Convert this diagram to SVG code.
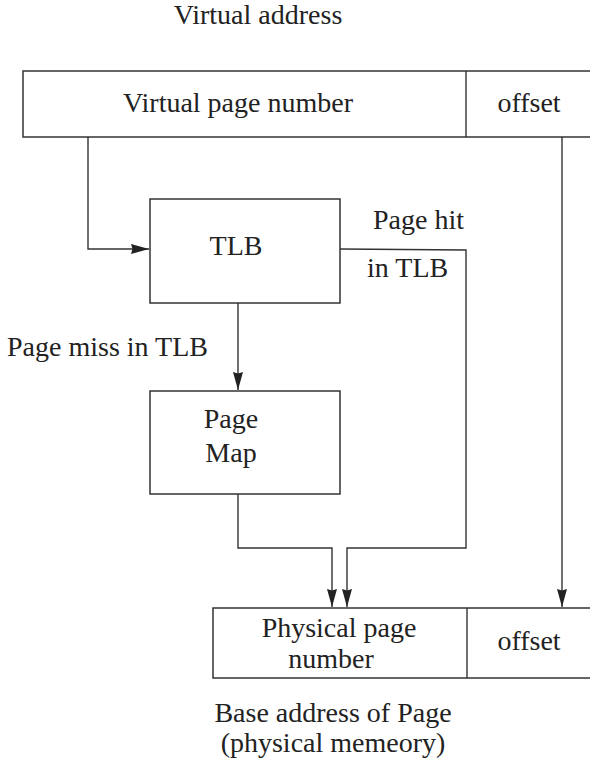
<svg xmlns="http://www.w3.org/2000/svg" width="590" height="761" viewBox="0 0 590 761">
<style>
.box{fill:#fff;stroke:#333;stroke-width:1.5}
.ln{fill:none;stroke:#333;stroke-width:1.4}
text{font-family:"Liberation Serif","Times New Roman",serif;font-size:28px;fill:#222}
.c{text-anchor:middle}
</style>
<defs>
<marker id="ah" viewBox="0 0 18 10" refX="18" refY="5" markerWidth="18" markerHeight="10" markerUnits="userSpaceOnUse" orient="auto">
<path d="M0,0 L18,5 L0,10 L1.5,5 Z" fill="#222"/>
</marker>
</defs>
<rect width="590" height="761" fill="#fff"/>
<text class="c" x="258" y="24">Virtual address</text>
<g id="virtual">
<rect class="box" x="23" y="71" width="580" height="66"/>
<line class="ln" x1="466" y1="71" x2="466" y2="137"/>
<text class="c" x="238" y="112">Virtual page number</text>
<text class="c" x="529" y="112">offset</text>
</g>
<g id="tlb">
<rect class="box" x="150" y="199" width="190" height="104"/>
<text class="c" x="236" y="255">TLB</text>
</g>
<g id="pagemap">
<rect class="box" x="150" y="391" width="190" height="103"/>
<text class="c" x="231" y="428">Page</text>
<text class="c" x="231" y="462">Map</text>
</g>
<g id="physical">
<rect class="box" x="213" y="608" width="390" height="70"/>
<line class="ln" x1="467" y1="608" x2="467" y2="678"/>
<text class="c" x="339" y="637">Physical page</text>
<text class="c" x="331" y="668">number</text>
<text class="c" x="529" y="650">offset</text>
</g>
<g id="connectors">
<polyline class="ln" points="88,137 88,249 149,249" marker-end="url(#ah)"/>
<polyline class="ln" points="238,303 238,390" marker-end="url(#ah)"/>
<polyline class="ln" points="340,249 466,250 466,548 347,548 347,607" marker-end="url(#ah)"/>
<polyline class="ln" points="238,494 238,548 332,548 332,607" marker-end="url(#ah)"/>
<polyline class="ln" points="562,137 562,607" marker-end="url(#ah)"/>
</g>
<text x="373" y="229">Page hit</text>
<text x="367" y="277">in TLB</text>
<text x="7" y="356">Page miss in TLB</text>
<text class="c" x="333" y="722">Base address of Page</text>
<text class="c" x="333" y="752">(physical memeory)</text>
</svg>
